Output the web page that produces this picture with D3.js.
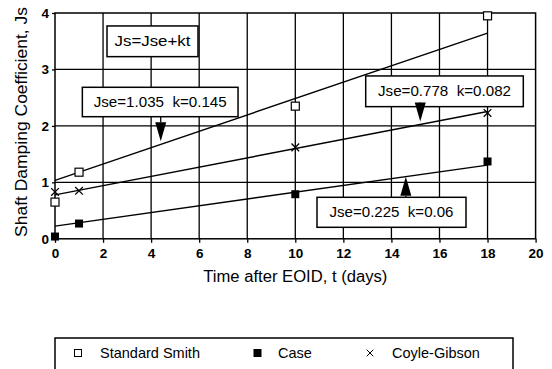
<!DOCTYPE html>
<html>
<head>
<meta charset="utf-8">
<script src="https://cdn.jsdelivr.net/npm/d3@7"></script>
<style>
  html, body { margin: 0; padding: 0; background: #fff; }
  svg { display: block; font-family: "Liberation Sans", Arial, Helvetica, sans-serif; }
  text { white-space: pre; }
</style>
</head>
<body>
<svg id="chart" width="552" height="369"></svg>
<script>
// Measured shaft damping coefficients versus time after end of initial driving
const days = [0, 1, 10, 18];
const standardSmith = [0.65, 1.18, 2.35, 3.95];
const caseMethod = [0.04, 0.27, 0.79, 1.37];
const coyleGibson = [0.83, 0.85, 1.62, 2.23];

// Fitted setup relations Js = Jse + k t
const smithFit = { Jse: 1.035, k: 0.145 };
const caseFit = { Jse: 0.225, k: 0.06 };
const coyleFit = { Jse: 0.778, k: 0.082 };

const xTicks = [0, 2, 4, 6, 8, 10, 12, 14, 16, 18, 20];
const yTicks = [0, 1, 2, 3, 4];
const seriesNames = ["Standard Smith", "Case", "Coyle-Gibson"];

const svg = d3.select("#chart");
const x = d3.scaleLinear().domain([0, 20]).range([55, 535.6]);
const y = d3.scaleLinear().domain([0, 4]).range([238.8, 13]);

// grid
const g = svg.append("g");
g.selectAll("line.vg").data(xTicks.slice(1, -1)).join("line")
  .attr("x1", d => x(d)).attr("x2", d => x(d))
  .attr("y1", y(0)).attr("y2", y(4))
  .attr("stroke", "#000").attr("stroke-width", 1.3);
g.selectAll("line.hg").data(yTicks.slice(1, -1)).join("line")
  .attr("x1", x(0)).attr("x2", x(20))
  .attr("y1", d => y(d)).attr("y2", d => y(d))
  .attr("stroke", "#000").attr("stroke-width", 1.3);
g.append("rect")
  .attr("x", x(0)).attr("y", y(4))
  .attr("width", x(20) - x(0)).attr("height", y(0) - y(4))
  .attr("fill", "none").attr("stroke", "#000").attr("stroke-width", 1.5);

// axes
const xAxis = d3.axisBottom(x).tickValues(xTicks).tickFormat(d3.format("d"))
  .tickSize(4).tickSizeOuter(0).tickPadding(6);
const gx = svg.append("g").attr("transform", `translate(0,${y(0)})`).call(xAxis);
gx.select(".domain").remove();
gx.selectAll("line").attr("stroke", "#000").attr("stroke-width", 1.3);
gx.selectAll("text").attr("font-size", 13.5).attr("font-weight", "bold").attr("fill", "#000")
  .attr("font-family", "Liberation Sans, Arial, sans-serif");

const yAxis = d3.axisLeft(y).tickValues(yTicks).tickFormat(d3.format("d"))
  .tickSize(3).tickSizeOuter(0).tickPadding(3);
const gy = svg.append("g").attr("transform", `translate(${x(0)},0)`).call(yAxis);
gy.select(".domain").remove();
gy.selectAll("line").attr("stroke", "#000").attr("stroke-width", 1.3);
gy.selectAll("text").attr("font-size", 13.5).attr("font-weight", "bold").attr("fill", "#000")
  .attr("font-family", "Liberation Sans, Arial, sans-serif");

// axis titles
svg.append("text")
  .attr("x", (x(0) + x(20)) / 2).attr("y", 282)
  .attr("text-anchor", "middle").attr("font-size", 16)
  .attr("textLength", 184).attr("lengthAdjust", "spacingAndGlyphs")
  .text("Time after EOID, t (days)");
svg.append("text")
  .attr("transform", `translate(27,122) rotate(-90)`)
  .attr("text-anchor", "middle").attr("font-size", 16)
  .attr("textLength", 230).attr("lengthAdjust", "spacingAndGlyphs")
  .text("Shaft Damping Coefficient, Js");

// fitted lines
const fitLine = f => [[0, f.Jse], [18, f.Jse + f.k * 18]];
const lineGen = d3.line().x(d => x(d[0])).y(d => y(d[1]));
[smithFit, caseFit, coyleFit].forEach(f => {
  svg.append("path").attr("d", lineGen(fitLine(f)))
    .attr("fill", "none").attr("stroke", "#000").attr("stroke-width", 1.4);
});

// markers
const ms = 8;
svg.append("g").selectAll("rect").data(days.map((t, i) => [t, standardSmith[i]])).join("rect")
  .attr("x", d => x(d[0]) - ms / 2).attr("y", d => y(d[1]) - ms / 2)
  .attr("width", ms).attr("height", ms)
  .attr("fill", "#fff").attr("stroke", "#000").attr("stroke-width", 1.2);
svg.append("g").selectAll("rect").data(days.map((t, i) => [t, caseMethod[i]])).join("rect")
  .attr("x", d => x(d[0]) - ms / 2).attr("y", d => y(d[1]) - ms / 2)
  .attr("width", ms).attr("height", ms).attr("fill", "#000");
const cross = d3.symbol().type(d3.symbolX).size(40);
svg.append("g").selectAll("path").data(days.map((t, i) => [t, coyleGibson[i]])).join("path")
  .attr("transform", d => `translate(${x(d[0])},${y(d[1])})`)
  .attr("d", cross()).attr("fill", "none").attr("stroke", "#000").attr("stroke-width", 1.3);

// annotation boxes and arrows
function box(cx, cy, w, h, label, tl) {
  svg.append("rect").attr("x", cx - w / 2).attr("y", cy - h / 2)
    .attr("width", w).attr("height", h)
    .attr("fill", "#fff").attr("stroke", "#000").attr("stroke-width", 1.5);
  svg.append("text").attr("x", cx).attr("y", cy + 5)
    .attr("text-anchor", "middle").attr("font-size", 14.5)
    .attr("textLength", tl).attr("lengthAdjust", "spacingAndGlyphs")
    .text(label);
}
function arrow(x0, y0, x1, y1) {
  const dir = Math.sign(y1 - y0);
  const headLen = 19, headW = 5.5;
  svg.append("line").attr("x1", x0).attr("y1", y0).attr("x2", x1).attr("y2", y1 - dir * headLen)
    .attr("stroke", "#000").attr("stroke-width", 1.3);
  svg.append("path")
    .attr("d", `M${x1},${y1}L${x1 - headW},${y1 - dir * headLen}L${x1 + headW},${y1 - dir * headLen}Z`)
    .attr("fill", "#000");
}
const fitAt = (f, t) => f.Jse + f.k * t;
const fmt = f => `Jse=${f.Jse}  k=${f.k}`;

box(152.5, 41.3, 91, 30.7, "Js=Jse+kt", 76);

// Standard Smith
const tS = 4.4;
arrow(x(tS), 116.7, x(tS), y(fitAt(smithFit, tS)) - 3);
box(160.2, 102, 155.7, 29.4, fmt(smithFit), 133);

// Coyle-Gibson
const tC = 15.2;
box(444.5, 91.3, 157.6, 30.7, fmt(coyleFit), 133);
arrow(x(tC), 104, x(tC), y(fitAt(coyleFit, tC)) - 3);

// Case
const tK = 14.6;
arrow(x(tK), 197.3, x(tK), y(fitAt(caseFit, tK)));
box(391.5, 212.3, 149, 30, fmt(caseFit), 124);

// legend
svg.append("rect").attr("x", 55).attr("y", 338).attr("width", 458).attr("height", 60)
  .attr("fill", "#fff").attr("stroke", "#000").attr("stroke-width", 1.5);
const legY = 353;
svg.append("rect").attr("x", 74.5).attr("y", legY - 3.5).attr("width", 7).attr("height", 7)
  .attr("fill", "#fff").attr("stroke", "#000").attr("stroke-width", 1);
svg.append("rect").attr("x", 253.5).attr("y", legY - 4).attr("width", 8).attr("height", 8)
  .attr("fill", "#000");
svg.append("path").attr("transform", `translate(370,${legY})`)
  .attr("d", d3.symbol().type(d3.symbolX).size(30)())
  .attr("fill", "none").attr("stroke", "#000").attr("stroke-width", 1);
const legX = [100, 278, 392];
seriesNames.forEach((n, i) => {
  svg.append("text").attr("x", legX[i]).attr("y", legY + 5)
    .attr("font-size", 14.5).text(n);
});
</script>
</body>
</html>
